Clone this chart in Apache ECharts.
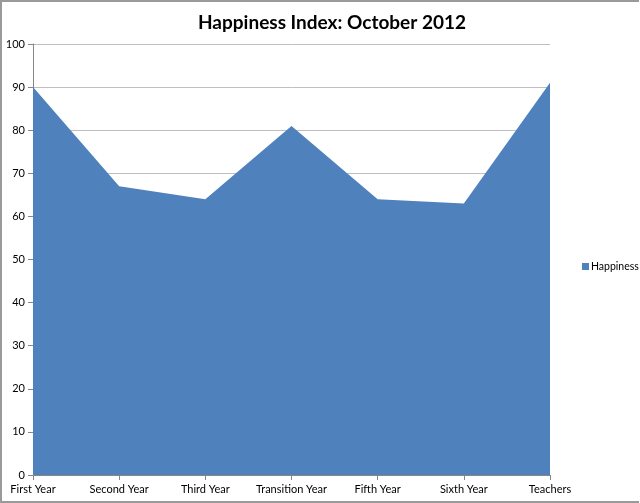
<!DOCTYPE html>
<html>
<head>
<meta charset="utf-8">
<script src="https://cdn.jsdelivr.net/npm/echarts@6/dist/echarts.min.js"></script>
<style>
html,body{margin:0;padding:0;background:#fff;}
#chart{width:640px;height:503px;}
</style>
</head>
<body>
<div id="chart"></div>
<script>
const categories = ["First Year","Second Year","Third Year","Transition Year","Fifth Year","Sixth Year","Teachers"];
const happiness = [90, 67, 64, 81, 64, 63, 91];
const seriesName = "Happiness";
const titleText = "Happiness Index: October 2012";

const chart = echarts.init(document.getElementById('chart'), null, {renderer:'canvas'});
const font = "Lato, 'Open Sans', 'Noto Sans', sans-serif";
chart.setOption({
  animation:false,
  backgroundColor:'#fff',
  title:{
    text:titleText, left:327, top:8, textAlign:'center',
    textStyle:{fontFamily:font, fontSize:19, fontWeight:'bold', color:'#000'}
  },
  legend:{
    data:[seriesName], orient:'vertical', left:582, top:261, padding:0,
    itemWidth:7, itemHeight:7, itemGap:4, icon:'rect',
    textStyle:{fontFamily:font, fontSize:10.5, color:'#000', padding:[0,0,0,-3]}
  },
  grid:{left:33, right:90, top:44, bottom:28, containLabel:false},
  xAxis:{
    type:'category', data:categories, boundaryGap:false,
    axisLine:{lineStyle:{color:'#868686'}},
    axisTick:{show:true, length:5, interval:0, lineStyle:{color:'#868686'}},
    axisLabel:{fontFamily:font, fontSize:11, color:'#000', margin:9, interval:0}
  },
  yAxis:{
    type:'value', min:0, max:100, interval:10,
    axisLine:{show:true, lineStyle:{color:'#868686'}},
    axisTick:{show:true, length:5, lineStyle:{color:'#868686'}},
    axisLabel:{fontFamily:font, fontSize:11, color:'#000', margin:8},
    splitLine:{lineStyle:{color:'#bfbfbf'}}
  },
  series:[{
    name:seriesName, type:'line', data:happiness,
    symbol:'none', lineStyle:{width:0, color:'#4F81BD'},
    itemStyle:{color:'#4F81BD'},
    areaStyle:{color:'#4F81BD', opacity:1}
  }],
  graphic:[
    {type:'polyline', silent:true, z:100, shape:{points:[[639,1],[1,1],[1,502],[639,502]]}, style:{stroke:'#9a9a9a', lineWidth:2, fill:null}}
  ]
});
</script>
</body>
</html>
